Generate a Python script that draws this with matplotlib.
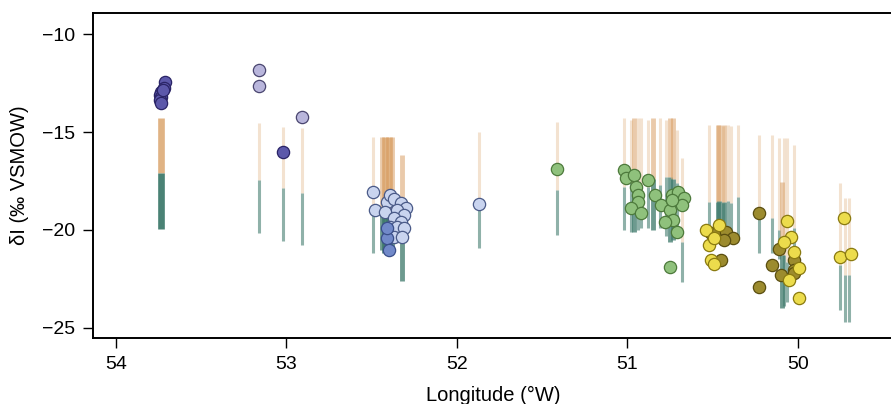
import numpy as np
import matplotlib.pyplot as plt

plt.rcParams["font.family"] = ["Liberation Sans", "DejaVu Sans"]

# range bars: longitude, top of range, break, bottom of range, sample weight
bar_lon = [53.735, 53.16, 53.02, 52.91, 52.49, 52.44, 52.42, 52.40, 52.38, 52.32,
           51.87, 51.41,
           51.02, 50.98, 50.96, 50.94, 50.92, 50.88, 50.85, 50.81, 50.77, 50.75, 50.73, 50.71, 50.68,
           50.52, 50.47, 50.46, 50.44, 50.43, 50.41, 50.39, 50.35,
           50.23, 50.15, 50.11, 50.09, 50.08, 50.06, 50.02,
           49.75, 49.72, 49.70]
bar_top = [-14.28, -14.53, -14.74, -14.79, -15.25, -15.25, -15.25, -15.25, -15.25, -16.17,
           -14.99, -14.48,
           -14.3, -14.4, -14.3, -14.3, -14.3, -14.4, -14.3, -14.3, -14.4, -14.3, -14.3, -14.9, -16.3,
           -14.64, -14.64, -14.64, -14.7, -14.64, -14.64, -14.7, -14.64,
           -15.15, -15.15, -15.3, -17.55, -15.3, -15.3, -15.66,
           -17.6, -18.36, -18.36]
bar_mid = [-17.09, -17.44, -17.85, -18.11, -18.97, -19.2, -19.3, -19.2, -19.4, -20.0,
           -18.98, -17.95,
           -17.8, -17.6, -17.7, -17.9, -18.2, -17.8, -17.4, -17.7, -17.3, -17.3, -17.4, -17.6, -20.6,
           -18.57, -18.57, -18.5, -18.6, -18.57, -18.5, -18.6, -18.3,
           -19.39, -19.39, -20.0, -21.27, -21.27, -21.64, -19.9,
           -21.78, -22.3, -22.3]
bar_bot = [-19.95, -20.15, -20.56, -20.77, -21.18, -21.0, -21.2, -21.3, -21.2, -22.6,
           -20.92, -20.25,
           -20.0, -20.1, -20.1, -20.0, -19.9, -19.9, -20.0, -19.9, -20.3, -20.6, -20.5, -20.4, -22.65,
           -19.9, -20.26, -20.26, -20.3, -20.26, -20.2, -20.3, -20.36,
           -21.18, -21.18, -21.5, -23.98, -23.9, -23.68, -21.9,
           -24.08, -24.7, -24.7]
bar_n = [3, 1, 1, 1, 1, 2, 3, 3, 2, 2,
         1, 1,
         1, 1, 2, 1, 1, 1, 2, 1, 1, 2, 2, 1, 1,
         1, 2, 2, 1, 2, 1, 1, 1,
         1, 1, 1, 2, 1, 1, 1,
         1, 1, 1]

# isotope values of samples
pt_lon = {
    "dark_purple": [53.71, 53.72, 53.735, 53.74, 53.735, 53.74, 53.735, 53.725, 53.02],
    "light_purple": [53.16, 53.16, 52.91],
    "light_blue": [52.49, 52.48, 52.41, 52.39, 52.37, 52.33, 52.30, 52.35, 52.42, 52.31,
                   52.37, 52.33, 52.39, 52.35, 52.31, 52.37, 52.32, 51.87],
    "mid_blue": [52.41, 52.40, 52.41],
    "green": [51.02, 51.01, 50.96, 50.95, 50.94, 50.94, 50.98, 50.92, 50.88, 50.84,
              50.80, 50.75, 50.73, 50.78, 50.71, 50.74, 50.70, 50.67, 50.68, 50.74,
              50.75, 51.41],
    "olive": [50.51, 50.47, 50.42, 50.38, 50.45, 50.43,
              50.23, 50.11, 50.15, 50.02, 50.02, 50.10, 50.02, 50.23],
    "yellow": [50.54, 50.52, 50.46, 50.51, 50.49, 50.49,
               50.06, 50.04, 50.08, 50.02, 49.99, 50.05, 49.99,
               49.73, 49.75, 49.69],
}
pt_val = {
    "dark_purple": [-12.44, -12.75, -12.95, -13.1, -13.2, -13.36, -13.51, -12.85, -16.01],
    "light_purple": [-11.82, -12.64, -14.23],
    "light_blue": [-18.06, -18.98, -18.57, -18.21, -18.42, -18.62, -18.88, -18.98, -19.08, -19.23,
                   -19.39, -19.59, -19.85, -19.85, -19.90, -20.36, -20.36, -18.68],
    "mid_blue": [-20.41, -21.02, -19.9],
    "green": [-16.93, -17.32, -17.19, -17.8, -18.2, -18.57, -18.88, -19.13, -17.45, -18.2,
              -18.72, -18.98, -19.49, -19.59, -20.1, -18.2, -18.06, -18.36, -18.72, -18.47,
              -21.89, -16.88],
    "olive": [-20.15, -20.05, -20.1, -20.41, -21.53, -20.51,
              -19.13, -20.97, -21.78, -21.53, -22.05, -22.3, -22.2, -22.9],
    "yellow": [-20.0, -20.77, -19.74, -21.53, -21.73, -20.41,
               -19.54, -20.36, -20.61, -21.12, -21.94, -22.56, -23.47,
               -19.39, -21.38, -21.23],
}
pt_face = {"dark_purple": "#5c58aa", "light_purple": "#b9b6dc", "light_blue": "#c9d4ef",
           "mid_blue": "#7189c9", "green": "#8fc17c", "olive": "#9c8b2e", "yellow": "#ecdc4c"}
pt_edge = {"dark_purple": "#2a2466", "light_purple": "#4a4670", "light_blue": "#4a5a88",
           "mid_blue": "#3a4f8a", "green": "#4d7a3c", "olive": "#5a4e10", "yellow": "#8a7a10"}

fig = plt.figure(figsize=(8.91, 4.04), dpi=100)
ax = fig.add_axes([0.1044, 0.1634, 0.898, 0.8036])

for lon, top, mid, bot, n in zip(bar_lon, bar_top, bar_mid, bar_bot, bar_n):
    lw = 0.9 + 1.3 * n
    ax.vlines(lon, mid, top, color="#d9a066", lw=lw, alpha=0.05 + 0.25 * n, zorder=1)
    ax.vlines(lon, bot, mid, color="#3f7a6c", lw=lw, alpha=0.4 + 0.18 * n, zorder=1)

for g in pt_lon:
    ax.scatter(pt_lon[g], pt_val[g], s=78, c=pt_face[g], edgecolors=pt_edge[g],
               linewidths=0.9, zorder=3)

ax.set_xlim(54.135, 49.44)
ax.set_ylim(-25.52, -8.93)
ax.set_xticks([54, 53, 52, 51, 50])
ax.set_xticklabels(["54", "53", "52", "51", "50"])
ax.set_yticks([-10, -15, -20, -25])
ax.set_yticklabels(["\u221210", "\u221215", "\u221220", "\u221225"])
for s in ["left", "bottom", "top"]:
    ax.spines[s].set_linewidth(1.4)
ax.spines["right"].set_visible(False)
ax.tick_params(direction="out", length=7, width=1, labelsize=14, pad=6)
ax.set_xlabel("Longitude (\u00b0W)", fontsize=14.5, labelpad=9)
ax.set_ylabel("\u03b4I (\u2030 VSMOW)", fontsize=14.5, labelpad=9)

fig.savefig("out.png", dpi=100)
